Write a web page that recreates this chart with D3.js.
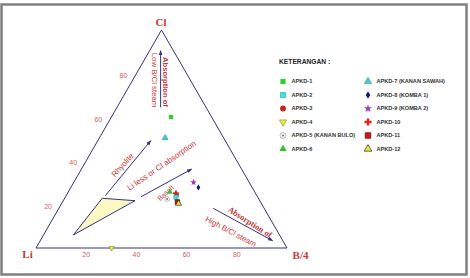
<!DOCTYPE html>
<html>
<head>
<meta charset="utf-8">
<script src="https://cdn.jsdelivr.net/npm/d3@7"></script>
<style>
  html, body { margin: 0; padding: 0; background: #fff; }
  svg { display: block; }
</style>
</head>
<body>
<figure id="tern" style="margin:0"></figure>
<script>
// sample names and ternary composition (Li, Cl, B/4 in %)
const samples = ["APKD-1","APKD-2","APKD-3","APKD-4","APKD-5 (KANAN BULO)","APKD-6",
                 "APKD-7 (KANAN SAWAH)","APKD-8 (KOMBA 1)","APKD-9 (KOMBA 2)","APKD-10","APKD-11","APKD-12"];
const liVals = [16.2, 32.6, 31.9, 69.9, 36.5, 33.8, 23.3, 21.4, 22.2, 31.7, 33.1, 33.0];
const clVals = [60.1, 23.3, 24.2,  0.0, 22.5, 25.7, 50.5, 27.8, 30.1, 25.1, 21.1, 20.4];
const bVals  = [23.7, 44.1, 43.9, 30.1, 41.0, 40.5, 26.2, 50.8, 47.7, 43.2, 45.8, 46.6];

const ticks = [20, 40, 60, 80];

// yellow field (Li, Cl, B/4)
const fieldLi = [62.2, 49.7, 82.1];
const fieldCl = [22.8, 21.7, 6.0];
const fieldB  = [15.0, 28.6, 11.9];

// trend arrows: start/end [Cl, B/4]
const arrowFrom = [[24.0, 15.6], [23.5, 30.1], [64.5, 17.4], [18.2, 61.5]];
const arrowTo   = [[49.2, 21.1], [36.2, 43.9], [90.5, 4.4], [3.35, 92.6]];

const width = 470, height = 278;
const navy = "#34347c", red = "#c8393a", tickRed = "#d2605e";

const svg = d3.select("figure#tern").append("svg")
  .attr("width", width).attr("height", height);

svg.append("rect").attr("width", width).attr("height", height).attr("fill", "#fff");
svg.append("rect")
  .attr("x", 1.5).attr("y", 4.5).attr("width", 465).attr("height", 270)
  .attr("fill", "none").attr("stroke", "#808080").attr("stroke-width", 2.5);

// base scale runs Li -> B/4, height scale for Cl
const x = d3.scaleLinear().domain([0, 100]).range([36, 287]);
const y = d3.scaleLinear().domain([0, 100]).range([248, 30]);
const px = (cl, b) => x(b + cl / 2);
const py = cl => y(cl);

const defs = svg.append("defs");
defs.append("marker").attr("id", "head")
  .attr("viewBox", "0 0 10 10").attr("refX", 9).attr("refY", 5)
  .attr("markerWidth", 5).attr("markerHeight", 5).attr("orient", "auto")
  .append("path").attr("d", "M0,1 L10,5 L0,9 Z").attr("fill", navy);

// triangle frame
const corners = [[0, 0], [100, 0], [0, 100]]; // [cl, b]
svg.append("path")
  .attr("d", d3.line()(corners.map(c => [px(c[0], c[1]), py(c[0])])) + "Z")
  .attr("fill", "none").attr("stroke", navy).attr("stroke-width", 1);

// tick labels
svg.selectAll(".tb").data(ticks).enter().append("text")
  .attr("x", d => x(d)).attr("y", 256.5)
  .attr("text-anchor", "middle")
  .attr("font-family", "Arial, Liberation Sans, sans-serif").attr("font-size", 7)
  .attr("fill", tickRed).text(d => d);
svg.selectAll(".tl").data(ticks).enter().append("text")
  .attr("x", d => px(d, 0) - 13).attr("y", d => py(d) + 4.5)
  .attr("text-anchor", "middle")
  .attr("font-family", "Arial, Liberation Sans, sans-serif").attr("font-size", 7)
  .attr("fill", tickRed).text(d => d);

// vertex labels
const vtx = [["Cl", 161, 26], ["Li", 27.5, 258], ["B/4", 300.5, 258.5]];
svg.selectAll(".vl").data(vtx).enter().append("text")
  .attr("x", d => d[1]).attr("y", d => d[2])
  .attr("text-anchor", "middle")
  .attr("font-family", "Liberation Serif, DejaVu Serif, serif")
  .attr("font-weight", "bold").attr("font-size", 11)
  .attr("fill", red).text(d => d[0]);

// yellow field
const fieldPts = fieldLi.map((d, i) => [px(fieldCl[i], fieldB[i]), py(fieldCl[i])]);
svg.append("path")
  .attr("d", d3.line()(fieldPts) + "Z")
  .attr("fill", "#fbf8c4").attr("stroke", navy).attr("stroke-width", 1);

// arrows
svg.selectAll(".arr").data(arrowFrom).enter().append("line")
  .attr("x1", d => px(d[0], d[1])).attr("y1", d => py(d[0]))
  .attr("x2", (d, i) => px(arrowTo[i][0], arrowTo[i][1]))
  .attr("y2", (d, i) => py(arrowTo[i][0]))
  .attr("stroke", navy).attr("stroke-width", 1)
  .attr("marker-end", "url(#head)");

// annotation text
const notes = [
  { t: "Absorption of", x: 165.5, y: 82, r: 90, w: "bold", f: "sans", s: 7.6 },
  { t: "Low B/Cl steam", x: 155, y: 80, r: 90, w: "normal", f: "sans", s: 7.8 },
  { t: "Rhyolite", x: 122.5, y: 165, r: -48, w: "normal", f: "sans", s: 8 },
  { t: "Li less or Cl absorption", x: 161.5, y: 165.5, r: -34.5, w: "normal", f: "sans", s: 8 },
  { t: "Basalt", x: 165.5, y: 193, r: -42, w: "normal", f: "sans", s: 7 },
  { t: "Absorption of", x: 250, y: 222, r: 32.5, w: "bold", f: "serif", s: 8.5 },
  { t: "High B/Cl steam", x: 231, y: 231.5, r: 28, w: "normal", f: "sans", s: 7.8 }
];
svg.selectAll(".note").data(notes).enter().append("text")
  .attr("transform", d => `translate(${d.x},${d.y}) rotate(${d.r})`)
  .attr("text-anchor", "middle").attr("dy", "0.35em")
  .attr("font-family", d => d.f === "serif" ? "Liberation Serif, DejaVu Serif, serif" : "Arial, Liberation Sans, sans-serif")
  .attr("font-weight", d => d.w).attr("font-size", d => d.s)
  .attr("fill", red).text(d => d.t);

// marker styles by sample index
const styles = [
  { sym: d3.symbolSquare, fill: "#2fd12f", stroke: "none", size: 26 },
  { sym: d3.symbolSquare, fill: "#3fe0e0", stroke: "#2aa", size: 26 },
  { sym: d3.symbolCircle, fill: "#cc2020", stroke: "none", size: 26 },
  { sym: d3.symbolTriangle, fill: "#e9e93a", stroke: "#888820", size: 22, rot: 180 },
  { sym: d3.symbolCircle, fill: "#fff", stroke: "#888", size: 26, dot: true },
  { sym: d3.symbolTriangle, fill: "#30c030", stroke: "none", size: 22 },
  { sym: d3.symbolTriangle, fill: "#4cc8c8", stroke: "#2a9a9a", size: 22 },
  { sym: d3.symbolDiamond, fill: "#101080", stroke: "none", size: 16 },
  { sym: d3.symbolStar, fill: "#9a34c8", stroke: "none", size: 20 },
  { sym: d3.symbolCross, fill: "#ee2020", stroke: "none", size: 26 },
  { sym: d3.symbolSquare, fill: "#cc1515", stroke: "#400", size: 30 },
  { sym: d3.symbolTriangle, fill: "#f0e830", stroke: "#111", size: 24 }
];

function drawMarker(g, st, scale) {
  g.append("path")
    .attr("d", d3.symbol().type(st.sym).size(st.size * scale)())
    .attr("transform", st.rot ? `rotate(${st.rot})` : null)
    .attr("fill", st.fill)
    .attr("stroke", st.stroke).attr("stroke-width", 0.6);
  if (st.dot) g.append("circle").attr("r", 0.9).attr("fill", "#555");
}

// data points
const drawOrder = [0, 6, 8, 7, 5, 4, 9, 2, 1, 10, 11, 3];
drawOrder.forEach(i => {
  const g = svg.append("g")
    .attr("transform", `translate(${px(clVals[i], bVals[i])},${py(clVals[i])})`);
  drawMarker(g, styles[i], i === 3 ? 0.55 : 0.7);
});

// legend
svg.append("text")
  .attr("x", 279).attr("y", 63.5)
  .attr("font-family", "Arial, Liberation Sans, sans-serif")
  .attr("font-weight", "bold").attr("font-size", 6.7)
  .attr("fill", "#222").text("KETERANGAN :");

samples.forEach((name, i) => {
  const col = Math.floor(i / 6), row = i % 6;
  const mx = col === 0 ? 283 : 368;
  const my = 81.5 + row * 13.5;
  const g = svg.append("g").attr("transform", `translate(${mx},${my})`);
  drawMarker(g, styles[i], 1.05);
  svg.append("text")
    .attr("x", mx + 8.5).attr("y", my).attr("dy", "0.35em")
    .attr("font-family", "Arial, Liberation Sans, sans-serif")
    .attr("font-weight", "bold").attr("font-size", 5.6)
    .attr("fill", "#333").text(name);
});
</script>
</body>
</html>
